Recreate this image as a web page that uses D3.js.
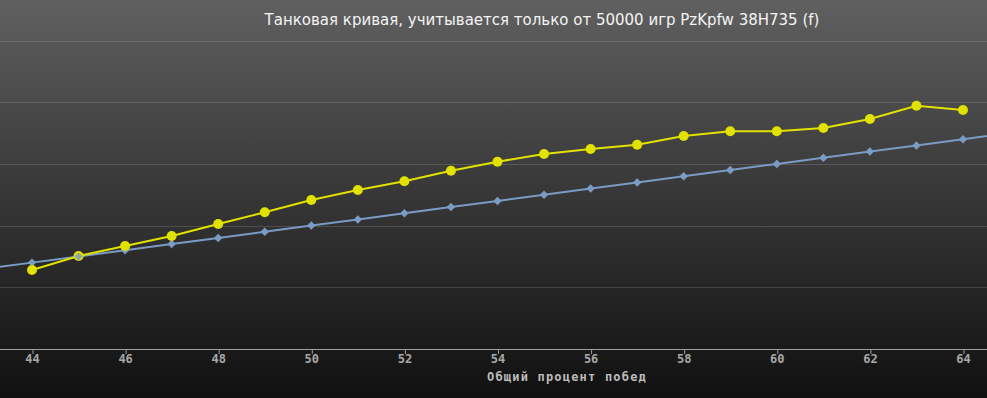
<!DOCTYPE html>
<html><head><meta charset="utf-8">
<script src="https://cdn.jsdelivr.net/npm/d3@7"></script>
<style>html,body{margin:0;padding:0;background:#111;}svg{display:block;}</style>
</head><body>
<svg id="chart" width="987" height="398"></svg>
<script>
const titleText = "Танковая кривая, учитывается только от 50000 игр PzKpfw 38H735 (f)";
const xAxisTitle = "Общий процент побед";
const xValues = [44,45,46,47,48,49,50,51,52,53,54,55,56,57,58,59,60,61,62,63,64];
const tankValues = [42.8,45.07,46.69,48.31,50.26,52.16,54.15,55.77,57.18,58.9,60.36,61.6,62.41,63.11,64.52,65.28,65.28,65.82,67.28,69.43,68.74];
const refX = [43,44,45,46,47,48,49,50,51,52,53,54,55,56,57,58,59,60,61,62,63,64,65];
const refValues = [43,44,45,46,47,48,49,50,51,52,53,54,55,56,57,58,59,60,61,62,63,64,65];
const xTicks = [44,46,48,50,52,54,56,58,60,62,64];
const yGrid = [40,50,60,70,80];

const W = 987, H = 398;
const svg = d3.select("#chart");
const defs = svg.append("defs");
const grad = defs.append("linearGradient").attr("id","bg").attr("x1",0).attr("y1",0).attr("x2",0).attr("y2",1);
grad.append("stop").attr("offset","0%").attr("stop-color","#606060");
grad.append("stop").attr("offset","45%").attr("stop-color","#3a3a3a");
grad.append("stop").attr("offset","100%").attr("stop-color","#101010");
svg.append("rect").attr("width",W).attr("height",H).attr("fill","url(#bg)");
defs.append("clipPath").attr("id","clip").append("rect").attr("x",0).attr("y",0).attr("width",W).attr("height",349);

const x = d3.scaleLinear().domain([44,64]).range([32,963]);
const y = d3.scaleLinear().domain([30,80]).range([349,40.5]);

// grid
svg.append("g").selectAll("line").data(yGrid).join("line")
  .attr("x1",0).attr("x2",W).attr("y1",d=>Math.round(y(d))+0.5).attr("y2",d=>Math.round(y(d))+0.5)
  .attr("stroke","rgba(255,255,255,0.14)").attr("stroke-width",1);

// x axis
const xAxis = d3.axisBottom(x).tickValues(xTicks).tickSize(5).tickSizeOuter(0).tickFormat(d3.format("d"));
const gx = svg.append("g").attr("transform","translate(0,349)").call(xAxis);
gx.select(".domain").remove();
gx.append("line").attr("x1",0).attr("x2",W).attr("y1",0.5).attr("y2",0.5).attr("stroke","#a0a0a0");
gx.selectAll(".tick line").attr("stroke","#a0a0a0").attr("transform","translate(0.5,0)");
gx.selectAll(".tick text").attr("fill","#a8a8a8").attr("font-family","DejaVu Sans Mono, monospace")
  .attr("font-weight","bold").attr("font-size","12px").attr("dy","0.85em").attr("y",4);

svg.append("text").attr("x",567).attr("y",381).attr("text-anchor","middle")
  .attr("fill","#bdbdbd").attr("font-family","DejaVu Sans Mono, monospace").attr("font-weight","bold")
  .attr("font-size","12px").attr("letter-spacing","1.2px").text(xAxisTitle);

// title
svg.append("text").attr("x",542).attr("y",25).attr("text-anchor","middle")
  .attr("fill","#f4f4f4").attr("font-family","DejaVu Sans, sans-serif").attr("font-size","15px").text(titleText);

const plot = svg.append("g").attr("clip-path","url(#clip)");
const line = d3.line().x(d=>x(d[0])).y(d=>y(d[1]));
const diamond = d3.symbol(d3.symbolSquare,36)();

const refData = refX.map((v,i)=>[v,refValues[i]]);
plot.append("path").datum(refData).attr("d",line).attr("fill","none").attr("stroke","#7a9bc4").attr("stroke-width",2);
plot.selectAll(".ref").data(refData.filter(d=>d[0]>=44&&d[0]<=64)).join("path").attr("class","ref")
  .attr("d",diamond).attr("transform",d=>`translate(${x(d[0])},${y(d[1])}) rotate(45)`)
  .attr("fill","#7a9bc4");

const tankData = xValues.map((v,i)=>[v,tankValues[i]]);
plot.append("path").datum(tankData).attr("d",line).attr("fill","none").attr("stroke","#e2e200").attr("stroke-width",2);
plot.selectAll(".tk").data(tankData).join("circle").attr("class","tk")
  .attr("cx",d=>x(d[0])).attr("cy",d=>y(d[1])).attr("r",5).attr("fill","#e2e200");

// blue marker at 45 drawn over yellow (as in reference)
plot.selectAll(".ref2").data(refData.filter(d=>d[0]===45)).join("path").attr("class","ref2")
  .attr("d",diamond).attr("transform",d=>`translate(${x(d[0])},${y(d[1])}) rotate(45)`)
  .attr("fill","#7a9bc4").attr("opacity",0.8);
</script>
</body></html>
